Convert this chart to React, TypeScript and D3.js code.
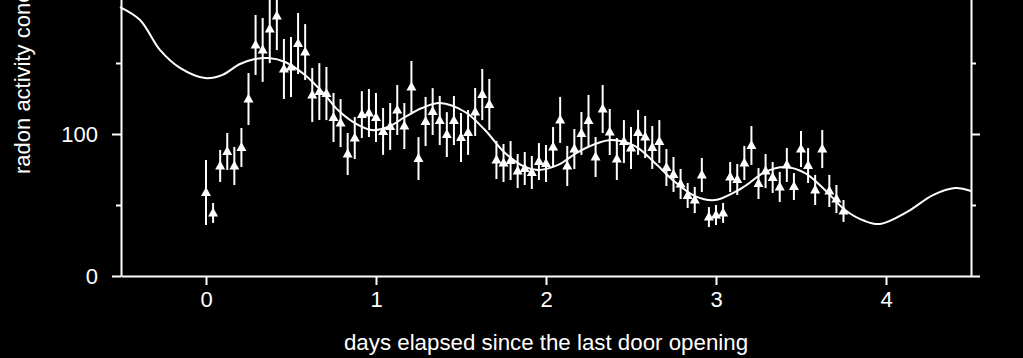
import React, { useEffect, useRef } from 'react';
import * as d3 from 'd3';

// hourly measurements, starting at the door opening (t = hour / 24)
const radon = [
  58.8, 44.4, 77.5, 87.7, 77.5, 90.5, 124.6, 162.7, 159.2, 173.9,
  183.1, 145.8, 147.2, 163.7, 157.7, 127.5, 129.9, 128.5, 111.6, 107.7,
  85.9, 97.2, 113.7, 114.8, 111.6, 101.8, 105.3, 116.9, 105.6, 133.1,
  82.7, 108.8, 115.8, 109.5, 99.6, 109.5, 97.5, 101.1, 115.5, 127.8,
  120.8, 81.7, 79.6, 81.3, 73.9, 75.7, 72.9, 80.6, 79.2, 90.8,
  109.9, 77.5, 89.4, 100.4, 109.5, 83.8, 117.6, 101.4, 82.4, 94.7,
  90.1, 101.1, 97.9, 90.5, 94.7, 76.4, 71.5, 64.8, 56.7, 53.5,
  71.1, 41.5, 43, 44.4, 69.7, 68, 79.6, 91.9, 65.1, 73.9,
  69.4, 62.7, 78.2, 63, 89.4, 77.8, 60.6, 89.4, 59.9, 54.2,
  45.8,
];
const radonErr = [
  22.9, 7, 11.3, 13, 13.4, 13.7, 18.3, 21.1, 22.5, 24,
  24, 21.1, 21.1, 21.5, 19.7, 19, 20, 18.7, 17.3, 16.9,
  14.8, 14.8, 16.5, 16.9, 17.3, 16.5, 16.5, 17.6, 16.2, 18.3,
  15.1, 17.3, 16.5, 17.3, 15.8, 17.3, 17.3, 15.8, 16.9, 18,
  18, 13.4, 13.4, 13.7, 12, 11.6, 11.6, 13, 13, 14.1,
  16.2, 14.1, 14.1, 15.1, 18, 14.1, 16.9, 16.2, 14.8, 15.1,
  14.8, 15.8, 14.8, 15.1, 15.1, 13, 12.3, 10.6, 8.8, 9.2,
  12, 7, 7, 7, 10.6, 10.9, 12, 13.7, 10.9, 12,
  10.9, 10.6, 12, 9.5, 12.7, 12.3, 10.6, 13.4, 11.3, 9.9,
  7.7,
];

// fitted curve
const fitDays = [
  -0.506, -0.388, -0.271, -0.153, -0.006, 0.094, 0.2, 0.288, 0.371, 0.465,
  0.582, 0.7, 0.776, 0.876, 0.976, 1.071, 1.171, 1.271, 1.376, 1.524,
  1.641, 1.759, 1.876, 1.953, 2.071, 2.188, 2.306, 2.388, 2.524, 2.641,
  2.759, 2.876, 2.994, 3.112, 3.171, 3.288, 3.406, 3.524, 3.641, 3.759,
  3.876, 3.965, 4.124, 4.276, 4.406, 4.5,
];
const fitValues = [
  189.4, 180.3, 159.2, 146.5, 139.4, 141.5, 149.3, 152.8, 153.5, 150.7,
  141.5, 127.5, 116.9, 107.7, 102.8, 104.9, 112, 118.3, 121.8, 115.5,
  102.8, 86.6, 76.8, 74.6, 78.2, 87.3, 93.7, 95.8, 91.5, 79.6,
  66.2, 56.3, 53.5, 59.2, 63.4, 73.2, 76.8, 72.5, 60.6, 46.5,
  38.7, 36.6, 45.1, 57, 62, 59.9,
];

const xTicks = [0, 1, 2, 3, 4];
const yMajor = [0, 100, 200];
const yMinor = [50, 150];

const App: React.FC = () => {
  const svgRef = useRef<SVGSVGElement | null>(null);

  useEffect(() => {
    document.body.style.margin = '0';
    document.body.style.background = '#000';
    if (!svgRef.current) return;
    const svg = d3.select(svgRef.current);
    svg.selectAll('*').remove();

    const width = 1023;
    const height = 358;
    const font = 'Liberation Sans, Arial, Helvetica, sans-serif';

    svg.attr('width', width).attr('height', height);
    svg.append('rect').attr('width', width).attr('height', height).attr('fill', '#000');

    const x = d3.scaleLinear().domain([-0.5, 4.5]).range([121, 971]);
    const y = d3.scaleLinear().domain([0, 200]).range([276, -8]);

    const styleAxis = (g: d3.Selection<SVGGElement, unknown, null, undefined>) => {
      g.selectAll('path').attr('stroke', '#fff').attr('stroke-width', 2);
      g.selectAll('line').attr('stroke', '#fff').attr('stroke-width', 2);
      g.selectAll('text').attr('fill', '#fff').attr('font-family', font).attr('font-size', 22);
    };

    // bottom axis
    const gx = svg.append('g').attr('transform', `translate(0,${y(0)})`)
      .call(d3.axisBottom(x).tickValues(xTicks).tickSize(9).tickSizeOuter(0).tickPadding(6).tickFormat(d3.format('d')));
    styleAxis(gx);

    // left axis: major with labels, minor without
    const gy = svg.append('g').attr('transform', `translate(${x(-0.5)},0)`)
      .call(d3.axisLeft(y).tickValues(yMajor).tickSize(9).tickSizeOuter(0).tickPadding(14).tickFormat(d3.format('d')));
    styleAxis(gy);
    const gyMinor = svg.append('g').attr('transform', `translate(${x(-0.5)},0)`)
      .call(d3.axisLeft(y).tickValues(yMinor).tickSize(5).tickSizeOuter(0).tickFormat(() => ''));
    styleAxis(gyMinor);
    gyMinor.select('path').remove();

    // right axis, ticks only
    const gr = svg.append('g').attr('transform', `translate(${x(4.5)},0)`)
      .call(d3.axisRight(y).tickValues(yMajor).tickSize(9).tickSizeOuter(0).tickFormat(() => ''));
    styleAxis(gr);
    const grMinor = svg.append('g').attr('transform', `translate(${x(4.5)},0)`)
      .call(d3.axisRight(y).tickValues(yMinor).tickSize(5).tickSizeOuter(0).tickFormat(() => ''));
    styleAxis(grMinor);
    grMinor.select('path').remove();

    // axis titles
    svg.append('text')
      .attr('x', (x(-0.5) + x(4.5)) / 2)
      .attr('y', 350)
      .attr('text-anchor', 'middle')
      .attr('fill', '#fff')
      .attr('font-family', font)
      .attr('font-size', 22.3)
      .text('days elapsed since the last door opening');

    svg.append('text')
      .attr('transform', 'translate(30,174) rotate(-90)')
      .attr('text-anchor', 'start')
      .attr('fill', '#fff')
      .attr('font-family', font)
      .attr('font-size', 22)
      .text('radon activity concentration (Bq/m³)');

    // fitted curve
    const fit = fitDays.map((d, i) => [d, fitValues[i]] as [number, number]);
    const line = d3.line<[number, number]>()
      .x(d => x(d[0]))
      .y(d => y(d[1]))
      .curve(d3.curveCatmullRom.alpha(0.5));
    svg.append('path')
      .datum(fit)
      .attr('d', line)
      .attr('fill', 'none')
      .attr('stroke', '#fff')
      .attr('stroke-width', 2);

    // measurements with error bars
    const pts = radon.map((v, i) => ({ t: i / 24, v, e: radonErr[i] }));
    const g = svg.append('g');
    g.selectAll('line.err')
      .data(pts)
      .join('line')
      .attr('class', 'err')
      .attr('x1', d => x(d.t))
      .attr('x2', d => x(d.t))
      .attr('y1', d => y(d.v - d.e))
      .attr('y2', d => y(d.v + d.e))
      .attr('stroke', '#fff')
      .attr('stroke-width', 2);
    g.selectAll('path.tri')
      .data(pts)
      .join('path')
      .attr('class', 'tri')
      .attr('d', d => {
        const cx = x(d.t);
        const cy = y(d.v);
        return `M${cx},${cy - 5.5}L${cx + 5},${cy + 3.5}L${cx - 5},${cy + 3.5}Z`;
      })
      .attr('fill', '#fff');
  }, []);

  return <svg ref={svgRef} style={{ display: 'block' }} />;
};

export default App;
